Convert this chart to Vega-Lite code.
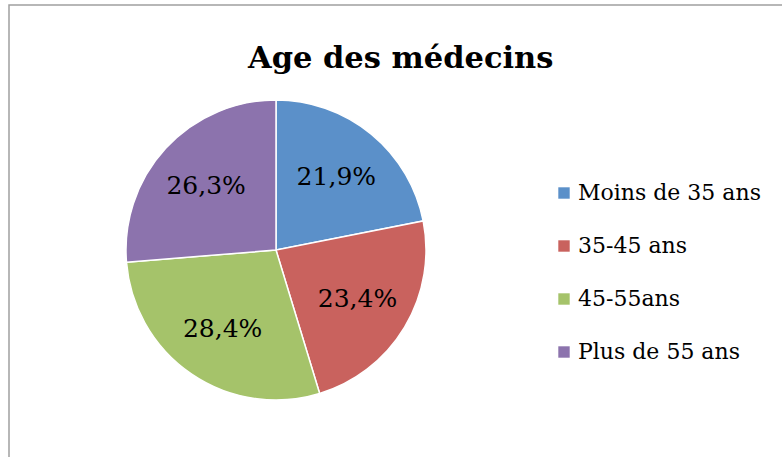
{
  "$schema": "https://vega.github.io/schema/vega-lite/v6.json",
  "width": 782,
  "height": 457,
  "autosize": {"type": "fit", "contains": "padding"},
  "padding": {"left": 9, "top": 5, "right": -4, "bottom": -4},
  "background": "white",
  "view": {"stroke": "#A0A0A0", "strokeWidth": 1.5, "fill": "white"},
  "title": {
    "text": "Age des médecins",
    "font": "DejaVu Serif",
    "fontSize": 30.5,
    "fontWeight": "bold",
    "color": "#000000",
    "anchor": "start",
    "dx": 239,
    "offset": -93,
    "baseline": "alphabetic"
  },
  "config": {
    "view": {"stroke": "#A0A0A0", "strokeWidth": 1.5},
    "locale": {"number": {"decimal": ",", "thousands": " ", "grouping": [3], "currency": ["", " €"]}}
  },
  "data": {
    "values": [
      {"categorie": "Moins de 35 ans", "part": 0.219, "ordre": 1},
      {"categorie": "35-45 ans", "part": 0.234, "ordre": 2},
      {"categorie": "45-55ans", "part": 0.284, "ordre": 3},
      {"categorie": "Plus de 55 ans", "part": 0.263, "ordre": 4}
    ]
  },
  "encoding": {
    "theta": {"field": "part", "type": "quantitative", "stack": true},
    "order": {"field": "ordre", "type": "ordinal"},
    "color": {
      "field": "categorie",
      "type": "nominal",
      "sort": ["Moins de 35 ans", "35-45 ans", "45-55ans", "Plus de 55 ans"],
      "scale": {
        "domain": ["Moins de 35 ans", "35-45 ans", "45-55ans", "Plus de 55 ans"],
        "range": ["#5B90C9", "#C9625E", "#A5C36A", "#8C73AD"]
      },
      "legend": {
        "title": null,
        "orient": "none",
        "legendX": 544,
        "legendY": 177,
        "symbolType": "square",
        "symbolSize": 130,
        "symbolStrokeWidth": 0,
        "labelFont": "DejaVu Serif",
        "labelFontSize": 22,
        "labelLimit": 400,
        "labelColor": "#000000",
        "labelOffset": 3,
        "rowPadding": 31,
        "padding": 0
      }
    }
  },
  "layer": [
    {
      "mark": {"type": "arc", "outerRadius": 150, "x": 267, "y": 245, "stroke": "#FFFFFF", "strokeWidth": 1.5}
    },
    {
      "mark": {"type": "text", "radius": 95, "x": 267, "y": 245, "font": "DejaVu Serif", "fontSize": 25, "color": "#000000"},
      "encoding": {
        "text": {"field": "part", "type": "quantitative", "format": ".1%"},
        "color": {"value": "#000000"}
      }
    }
  ]
}
